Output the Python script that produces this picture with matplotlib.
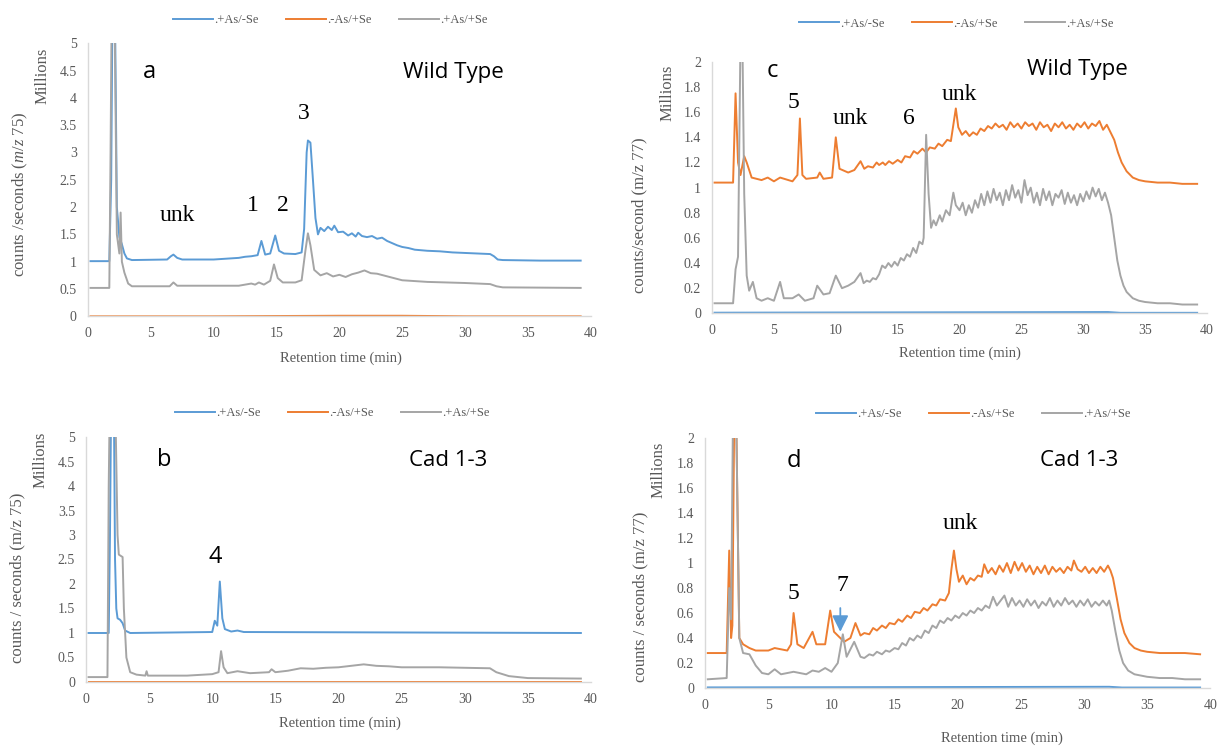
import numpy as np
import matplotlib
matplotlib.use("Agg")
import matplotlib.pyplot as plt

plt.rcParams['mathtext.fontset'] = 'custom'
plt.rcParams['mathtext.it'] = 'Liberation Serif:italic'
plt.rcParams['mathtext.rm'] = 'Liberation Serif'

BLUE = '#5B9BD5'
ORANGE = '#ED7D31'
GREY = '#A5A5A5'
TICK = '#595959'
SERIF = 'Liberation Serif'
SANS = ['Open Sans', 'DejaVu Sans']

series_names = ['.+As/-Se', '.-As/+Se', '.+As/+Se']

# ---- panel a (wild type, m/z 75), values in millions of counts/s ----
a_blue_t = [0.2, 1.7, 1.85, 1.95, 2.15, 2.3, 2.5, 2.7, 2.9, 3.1, 3.5, 6.3, 6.6, 6.8, 7.1, 7.5, 10, 12, 12.5, 13,
            13.5, 13.8, 14.1, 14.5, 14.9, 15.2, 15.6, 16.5, 17.0, 17.2, 17.4, 17.5, 17.7, 17.9, 18.1, 18.3, 18.5,
            18.8, 19.1, 19.4, 19.6, 19.9, 20.3, 20.7, 21.0, 21.3, 21.5, 21.8, 22.2, 22.6, 23.0, 23.4, 23.8, 24.2,
            24.6, 25.0, 25.5, 26.0, 27.0, 28.0, 29.0, 30.0, 31.0, 32.0, 32.3, 32.6, 33.0, 36.0, 39.2]
a_blue_v = [1.01, 1.01, 2.5, 5.6, 5.6, 2.0, 1.45, 1.32, 1.15, 1.06, 1.03, 1.04, 1.1, 1.13, 1.07, 1.04, 1.04, 1.07,
            1.09, 1.1, 1.12, 1.38, 1.13, 1.15, 1.48, 1.2, 1.15, 1.14, 1.17, 1.6, 3.0, 3.22, 3.18, 2.5, 1.8, 1.5,
            1.62, 1.56, 1.64, 1.58, 1.66, 1.54, 1.55, 1.48, 1.52, 1.46, 1.53, 1.47, 1.45, 1.47, 1.42, 1.44, 1.38,
            1.34, 1.3, 1.27, 1.25, 1.22, 1.2, 1.19, 1.17, 1.16, 1.15, 1.14, 1.1, 1.04, 1.03, 1.02, 1.02]
a_orange_t = [0.2, 10, 20, 25, 30, 39.2]
a_orange_v = [0.0, 0.0, 0.01, 0.01, 0.0, 0.0]
a_grey_t = [0.2, 1.7, 1.8, 1.9, 2.1, 2.3, 2.5, 2.6, 2.7, 2.9, 3.2, 3.5, 6.5, 6.8, 7.1, 12, 13, 13.3, 13.6, 14, 14.5,
            14.8, 15.1, 15.5, 16.5, 17.0, 17.3, 17.5, 17.7, 18.0, 18.5, 19.0, 19.5, 20.0, 20.5, 21.0, 21.5, 22.0,
            22.5, 23.0, 24.0, 25.0, 27.0, 30.0, 32.0, 32.5, 33.0, 39.2]
a_grey_v = [0.52, 0.52, 3.0, 6.0, 6.0, 1.5, 1.15, 1.9, 1.0, 0.8, 0.6, 0.55, 0.55, 0.62, 0.56, 0.56, 0.6, 0.58, 0.62,
            0.58, 0.65, 0.95, 0.7, 0.62, 0.62, 0.66, 1.2, 1.52, 1.3, 0.85, 0.75, 0.79, 0.73, 0.76, 0.72, 0.77,
            0.8, 0.84, 0.79, 0.78, 0.72, 0.66, 0.63, 0.61, 0.59, 0.55, 0.53, 0.52]

# ---- panel b (Cad 1-3, m/z 75) ----
b_blue_t = [0.2, 1.8, 1.9, 2.0, 2.2, 2.3, 2.4, 2.5, 2.7, 2.9, 3.1, 3.5, 10.0, 10.2, 10.4, 10.6, 10.8, 11.0, 11.5,
            12.0, 12.5, 39.2]
b_blue_v = [1.0, 1.0, 3.0, 6.0, 6.0, 2.5, 1.5, 1.3, 1.27, 1.2, 1.05, 1.0, 1.02, 1.25, 1.15, 2.05, 1.3, 1.08, 1.03,
            1.05, 1.02, 1.0]
b_orange_t = [0.2, 20, 39.2]
b_orange_v = [0.01, 0.01, 0.01]
b_grey_t = [0.2, 1.7, 1.8, 1.9, 2.3, 2.5, 2.6, 2.9, 3.0, 3.2, 3.5, 4.0, 4.7, 4.8, 4.9, 8.0, 10.0, 10.5, 10.7, 10.9,
            11.2, 12.0, 13.0, 14.5, 14.7, 15.0, 16.0, 17.0, 18.0, 19.0, 20.0, 21.0, 22.0, 23.0, 24.0, 25.0, 26.0,
            28.0, 30.0, 32.0, 32.5, 33.5, 35.0, 39.2]
b_grey_v = [0.1, 0.1, 4.0, 6.0, 6.0, 3.0, 2.6, 2.55, 1.5, 0.5, 0.2, 0.15, 0.13, 0.22, 0.13, 0.13, 0.16, 0.2, 0.63,
            0.3, 0.18, 0.22, 0.18, 0.2, 0.26, 0.2, 0.23, 0.28, 0.27, 0.29, 0.3, 0.33, 0.36, 0.33, 0.32, 0.3, 0.3,
            0.3, 0.29, 0.28, 0.2, 0.12, 0.08, 0.07]

# ---- panel c (wild type, m/z 77) ----
c_blue_t = [0.2, 20, 32, 33, 39.2]
c_blue_v = [0.005, 0.008, 0.01, 0.004, 0.004]
c_orange_t = [0.2, 1.7, 1.9, 2.1, 2.3, 2.6, 2.8, 3.2, 4.0, 4.5, 5.0, 5.5, 6.5, 6.9, 7.1, 7.3, 7.6, 8.5, 8.7, 9.0,
              9.7, 10.0, 10.3, 11.0, 11.5, 12.0, 12.3, 12.6, 13.0, 13.3, 13.5, 13.8, 14.0, 14.3, 14.6, 15.0, 15.3,
              15.6, 16.0, 16.3, 16.6, 17.0, 17.3, 17.6, 18.0, 18.3, 18.6, 19.0, 19.3, 19.5, 19.7, 19.9, 20.2, 20.5,
              20.8, 21.1, 21.4, 21.7, 22.0, 22.3, 22.6, 22.9, 23.2, 23.5, 23.8, 24.1, 24.4, 24.7, 25.0, 25.3,
              25.6, 25.9, 26.2, 26.5, 26.8, 27.1, 27.4, 27.7, 28.0, 28.3, 28.6, 28.9, 29.2, 29.5, 29.8, 30.1,
              30.4, 30.7, 31.0, 31.3, 31.6, 31.9, 32.2, 32.5, 32.8, 33.1, 33.5, 34.0, 34.5, 35.0, 36.0, 37.0,
              38.0, 39.2]
c_orange_v = [1.04, 1.04, 1.75, 1.2, 1.1, 1.25, 1.2, 1.08, 1.06, 1.08, 1.05, 1.08, 1.05, 1.1, 1.55, 1.1, 1.07,
              1.08, 1.12, 1.07, 1.08, 1.4, 1.15, 1.12, 1.14, 1.21, 1.15, 1.17, 1.16, 1.2, 1.18, 1.2, 1.18, 1.21,
              1.19, 1.22, 1.2, 1.25, 1.24, 1.29, 1.27, 1.31, 1.28, 1.32, 1.31, 1.35, 1.33, 1.38, 1.37, 1.5, 1.63,
              1.48, 1.42, 1.45, 1.41, 1.44, 1.42, 1.47, 1.45, 1.49, 1.47, 1.51, 1.48, 1.5, 1.46, 1.52, 1.48, 1.51,
              1.47, 1.52, 1.49, 1.51, 1.46, 1.52, 1.48, 1.5, 1.45, 1.51, 1.48, 1.52, 1.47, 1.5, 1.46, 1.51, 1.48,
              1.52, 1.47, 1.51, 1.49, 1.53, 1.46, 1.5, 1.44, 1.38, 1.28, 1.2, 1.13, 1.08, 1.06, 1.05, 1.04, 1.04,
              1.03, 1.03]
c_grey_t = [0.2, 1.7, 1.9, 2.1, 2.3, 2.45, 2.6, 2.8, 3.0, 3.3, 3.6, 4.0, 4.5, 5.0, 5.5, 5.8, 6.5, 7.0, 7.5, 8.2,
            8.5, 9.0, 9.5, 10.0, 10.5, 11.0, 11.5, 12.0, 12.25, 12.5, 12.75, 13.0, 13.25, 13.5, 13.75, 14.0,
            14.25, 14.5, 14.75, 15.0, 15.25, 15.5, 15.75, 16.0, 16.25, 16.5, 16.75, 17.0, 17.1, 17.3, 17.5, 17.7,
            17.9, 18.1, 18.4, 18.6, 18.9, 19.2, 19.5, 19.7, 20.0, 20.25, 20.5, 20.75, 21.0, 21.25, 21.5, 21.75,
            22.0, 22.25, 22.5, 22.75, 23.0, 23.25, 23.5, 23.75, 24.0, 24.25, 24.5, 24.75, 25.0, 25.25, 25.5,
            25.75, 26.0, 26.25, 26.5, 26.75, 27.0, 27.25, 27.5, 27.75, 28.0, 28.25, 28.5, 28.75, 29.0, 29.25,
            29.5, 29.75, 30.0, 30.25, 30.5, 30.75, 31.0, 31.25, 31.5, 31.75, 32.0, 32.25, 32.5, 32.75, 33.0,
            33.25, 33.5, 34.0, 34.5, 35.0, 36.0, 37.0, 38.0, 39.2]
c_grey_v = [0.08, 0.08, 0.35, 0.45, 2.2, 2.2, 0.95, 0.3, 0.18, 0.25, 0.12, 0.1, 0.12, 0.1, 0.25, 0.12, 0.12, 0.15,
            0.1, 0.12, 0.22, 0.15, 0.16, 0.3, 0.2, 0.22, 0.25, 0.32, 0.24, 0.26, 0.25, 0.28, 0.27, 0.31, 0.38,
            0.36, 0.4, 0.37, 0.41, 0.38, 0.44, 0.42, 0.47, 0.45, 0.52, 0.48, 0.57, 0.55, 0.6, 1.42, 0.95, 0.68,
            0.74, 0.7, 0.78, 0.73, 0.82, 0.78, 0.96, 0.86, 0.82, 0.88, 0.78, 0.86, 0.8, 0.9, 0.84, 0.95, 0.86,
            0.97, 0.88, 0.99, 0.9, 0.96, 0.86, 0.98, 0.9, 1.02, 0.92, 0.98, 0.88, 1.06, 0.94, 1.0, 0.88, 0.96,
            0.86, 0.99, 0.9, 0.97, 0.86, 0.95, 0.92, 0.98, 0.87, 0.96, 0.88, 0.94, 0.86, 0.95, 0.89, 0.97, 0.91,
            1.0, 0.93, 0.99, 0.9, 0.96, 0.88, 0.78, 0.6, 0.42, 0.3, 0.22, 0.17, 0.12, 0.1, 0.09, 0.08, 0.08,
            0.07, 0.07]

# ---- panel d (Cad 1-3, m/z 77) ----
d_blue_t = [0.2, 20, 32, 33, 39.2]
d_blue_v = [0.005, 0.008, 0.01, 0.004, 0.004]
d_orange_t = [0.2, 1.7, 1.9, 2.05, 2.15, 2.3, 2.45, 2.7, 3.0, 3.5, 4.0, 5.0, 5.5, 6.5, 6.8, 7.0, 7.3, 7.8, 8.5,
              8.8, 9.5, 9.9, 10.2, 10.5, 11.0, 11.5, 11.9, 12.3, 12.6, 13.0, 13.3, 13.6, 14.0, 14.3, 14.6, 15.0,
              15.3, 15.6, 16.0, 16.3, 16.6, 17.0, 17.3, 17.6, 18.0, 18.3, 18.6, 19.0, 19.3, 19.5, 19.7, 19.9,
              20.1, 20.4, 20.7, 21.0, 21.3, 21.6, 21.9, 22.1, 22.4, 22.7, 23.0, 23.3, 23.6, 23.9, 24.2, 24.5,
              24.8, 25.1, 25.4, 25.7, 26.0, 26.3, 26.6, 26.9, 27.2, 27.5, 27.8, 28.1, 28.4, 28.7, 29.0, 29.2,
              29.5, 29.8, 30.1, 30.4, 30.7, 31.0, 31.3, 31.6, 31.9, 32.1, 32.3, 32.6, 32.9, 33.2, 33.6, 34.0,
              34.5, 35.0, 36.0, 37.0, 38.0, 39.2]
d_orange_v = [0.28, 0.28, 1.1, 0.4, 0.5, 2.2, 2.2, 0.4, 0.35, 0.32, 0.3, 0.3, 0.32, 0.3, 0.35, 0.6, 0.35, 0.32,
              0.45, 0.35, 0.35, 0.62, 0.45, 0.42, 0.37, 0.4, 0.52, 0.42, 0.44, 0.43, 0.48, 0.46, 0.5, 0.48, 0.52,
              0.51, 0.55, 0.53, 0.58, 0.56, 0.61, 0.6, 0.64, 0.62, 0.67, 0.66, 0.71, 0.7, 0.76, 0.95, 1.1, 0.95,
              0.85, 0.9, 0.83, 0.88, 0.86, 0.9, 0.89, 0.99, 0.92, 0.96, 0.91, 0.98, 0.93, 1.0, 0.92, 1.01, 0.94,
              1.0, 0.93, 0.98, 0.91, 0.97, 0.92, 0.98, 0.91, 0.97, 0.93, 0.96, 0.92, 0.97, 0.94, 1.02, 0.95, 0.93,
              0.97, 0.92, 0.96, 0.92, 0.97, 0.93, 0.98, 0.94, 0.88, 0.72, 0.55, 0.44, 0.36, 0.32, 0.3, 0.29, 0.28,
              0.28, 0.28, 0.27]
d_grey_t = [0.2, 1.7, 1.9, 2.05, 2.2, 2.45, 2.7, 3.0, 3.5, 4.0, 4.5, 5.0, 5.5, 6.0, 7.0, 8.0, 8.5, 9.0, 9.5, 10.0,
            10.5, 10.9, 11.2, 11.8, 12.3, 12.6, 13.0, 13.3, 13.6, 14.0, 14.3, 14.6, 15.0, 15.3, 15.6, 15.9, 16.2,
            16.5, 16.8, 17.1, 17.4, 17.7, 18.0, 18.3, 18.6, 18.9, 19.2, 19.5, 19.8, 20.1, 20.4, 20.7, 21.0, 21.3,
            21.6, 21.9, 22.2, 22.5, 22.8, 23.1, 23.4, 23.7, 24.0, 24.3, 24.6, 24.9, 25.2, 25.5, 25.8, 26.1, 26.4,
            26.7, 27.0, 27.3, 27.6, 27.9, 28.2, 28.5, 28.8, 29.1, 29.4, 29.7, 30.0, 30.3, 30.6, 30.9, 31.2, 31.5,
            31.8, 32.0, 32.2, 32.5, 32.8, 33.1, 33.5, 34.0, 35.0, 36.0, 37.0, 38.0, 39.2]
d_grey_v = [0.07, 0.08, 0.8, 0.55, 2.2, 2.2, 0.4, 0.28, 0.27, 0.18, 0.12, 0.11, 0.15, 0.11, 0.13, 0.11, 0.14, 0.13,
            0.16, 0.13, 0.2, 0.43, 0.25, 0.37, 0.25, 0.24, 0.27, 0.26, 0.29, 0.27, 0.3, 0.29, 0.32, 0.31, 0.36,
            0.34, 0.4, 0.38, 0.42, 0.4, 0.46, 0.44, 0.5, 0.48, 0.54, 0.52, 0.56, 0.54, 0.58, 0.56, 0.6, 0.58,
            0.62, 0.6, 0.64, 0.62, 0.66, 0.64, 0.73, 0.66, 0.7, 0.74, 0.65, 0.72, 0.66, 0.7, 0.65, 0.71, 0.66,
            0.7, 0.64, 0.69, 0.66, 0.72, 0.65, 0.7, 0.66, 0.72, 0.67, 0.7, 0.65, 0.7, 0.66, 0.71, 0.65, 0.69,
            0.66, 0.7, 0.66, 0.7, 0.62, 0.45, 0.3, 0.2, 0.14, 0.11, 0.09, 0.08, 0.08, 0.07, 0.07]

a_ticks = [0, 0.5, 1, 1.5, 2, 2.5, 3, 3.5, 4, 4.5, 5]
c_ticks = [0, 0.2, 0.4, 0.6, 0.8, 1, 1.2, 1.4, 1.6, 1.8, 2]
x_ticks = [0, 5, 10, 15, 20, 25, 30, 35, 40]


def tick_label(v):
    return ('%g' % v)


def chromatogram(rect, traces, yticks, ymax):
    ax = fig.add_axes(rect)
    lines = []
    for (t, v), col in zip(traces, [BLUE, ORANGE, GREY]):
        ln, = ax.plot(t, v, color=col, lw=1.4, solid_joinstyle='round')
        lines.append(ln)
    ax.set_xlim(0, 40)
    ax.set_ylim(0, ymax)
    ax.set_xticks(x_ticks)
    ax.set_xticklabels([tick_label(x) for x in x_ticks], fontfamily=SERIF, fontsize=10, color=TICK)
    ax.set_yticks(yticks)
    ax.set_yticklabels([tick_label(y) for y in yticks], fontfamily=SERIF, fontsize=10, color=TICK)
    ax.tick_params(length=0, pad=8)
    for s in ['top', 'right']:
        ax.spines[s].set_visible(False)
    for s in ['left', 'bottom']:
        ax.spines[s].set_color('#D9D9D9')
        ax.spines[s].set_linewidth(1.0)
    ax.patch.set_alpha(0)
    return ax, lines


fig = plt.figure(figsize=(12.18, 7.46), dpi=100)

ax_a, la = chromatogram([0.0722, 0.576, 0.4128, 0.366],
                        [(a_blue_t, a_blue_v), (a_orange_t, a_orange_v), (a_grey_t, a_grey_v)], a_ticks, 5)
ax_c, lc = chromatogram([0.5846, 0.580, 0.4064, 0.337],
                        [(c_blue_t, c_blue_v), (c_orange_t, c_orange_v), (c_grey_t, c_grey_v)], c_ticks, 2)
ax_b, lb = chromatogram([0.0706, 0.0858, 0.4146, 0.3284],
                        [(b_blue_t, b_blue_v), (b_orange_t, b_orange_v), (b_grey_t, b_grey_v)], a_ticks, 5)
ax_d, ld = chromatogram([0.579, 0.0777, 0.4146, 0.3351],
                        [(d_blue_t, d_blue_v), (d_orange_t, d_orange_v), (d_grey_t, d_grey_v)], c_ticks, 2)

# legends
for lines, (lx, ly) in zip([la, lc, lb, ld], [(0.271, 0.973), (0.785, 0.968), (0.273, 0.446), (0.799, 0.445)]):
    fig.legend(lines, series_names, loc='center', bbox_to_anchor=(lx, ly), ncol=3, frameon=False,
               prop={'family': SERIF, 'size': 9}, labelcolor=TICK, handlelength=3.2, handletextpad=0.1,
               columnspacing=2.2)

# axis titles
fig.text(0.28, 0.52, 'Retention time (min)', ha='center', va='center', family=SERIF, fontsize=10.5, color=TICK)
fig.text(0.788, 0.527, 'Retention time (min)', ha='center', va='center', family=SERIF, fontsize=10.5, color=TICK)
fig.text(0.279, 0.031, 'Retention time (min)', ha='center', va='center', family=SERIF, fontsize=10.5, color=TICK)
fig.text(0.823, 0.011, 'Retention time (min)', ha='center', va='center', family=SERIF, fontsize=10.5, color=TICK)

YL = dict(rotation=90, ha='center', va='center', family=SERIF, fontsize=12, color=TICK)
fig.text(0.017, 0.739, r'counts /seconds ($\mathit{m/z}$ 75)', **YL)
fig.text(0.0345, 0.899, 'Millions', **YL)
fig.text(0.525, 0.712, 'counts/second (m/z 77)', **YL)
fig.text(0.548, 0.875, 'Millions', **YL)
fig.text(0.014, 0.225, 'counts / seconds (m/z 75)', **YL)
fig.text(0.033, 0.383, 'Millions', **YL)
fig.text(0.526, 0.2, 'counts / seconds (m/z 77)', **YL)
fig.text(0.541, 0.37, 'Millions', **YL)

# panel annotations
ax_a.text(4.9, 4.47, 'a', family=SANS, fontsize=17, ha='center', va='center')
ax_a.text(29.1, 4.47, 'Wild Type', family=SANS, fontsize=16, ha='center', va='center')
ax_a.text(7.1, 1.85, 'unk', family=SERIF, fontsize=17, ha='center', va='center')
ax_a.text(13.1, 2.03, '1', family=SERIF, fontsize=17, ha='center', va='center')
ax_a.text(15.5, 2.03, '2', family=SERIF, fontsize=17, ha='center', va='center')
ax_a.text(17.2, 3.72, '3', family=SERIF, fontsize=17, ha='center', va='center')

ax_c.text(4.85, 1.93, 'c', family=SANS, fontsize=17, ha='center', va='center')
ax_c.text(29.5, 1.94, 'Wild Type', family=SANS, fontsize=16, ha='center', va='center')
ax_c.text(6.6, 1.68, '5', family=SERIF, fontsize=17, ha='center', va='center')
ax_c.text(11.2, 1.55, 'unk', family=SERIF, fontsize=17, ha='center', va='center')
ax_c.text(15.9, 1.55, '6', family=SERIF, fontsize=17, ha='center', va='center')
ax_c.text(20.0, 1.74, 'unk', family=SERIF, fontsize=17, ha='center', va='center')

ax_b.text(6.2, 4.53, 'b', family=SANS, fontsize=17, ha='center', va='center')
ax_b.text(28.7, 4.53, 'Cad 1-3', family=SANS, fontsize=16, ha='center', va='center')
ax_b.text(10.2, 2.55, '4', family=SANS, fontsize=17, ha='center', va='center')

ax_d.text(7.0, 1.82, 'd', family=SANS, fontsize=17, ha='center', va='center')
ax_d.text(29.6, 1.82, 'Cad 1-3', family=SANS, fontsize=16, ha='center', va='center')
ax_d.text(20.2, 1.32, 'unk', family=SERIF, fontsize=17, ha='center', va='center')
ax_d.text(7.0, 0.76, '5', family=SERIF, fontsize=17, ha='center', va='center')
ax_d.text(10.9, 0.82, '7', family=SERIF, fontsize=17, ha='center', va='center')
ax_d.annotate('', xy=(10.7, 0.45), xytext=(10.7, 0.64),
              arrowprops=dict(arrowstyle='-|>,head_width=0.35,head_length=0.7', color=BLUE, lw=1.3,
                              mutation_scale=14, shrinkA=0, shrinkB=0))

fig.savefig('out.png', dpi=100)
